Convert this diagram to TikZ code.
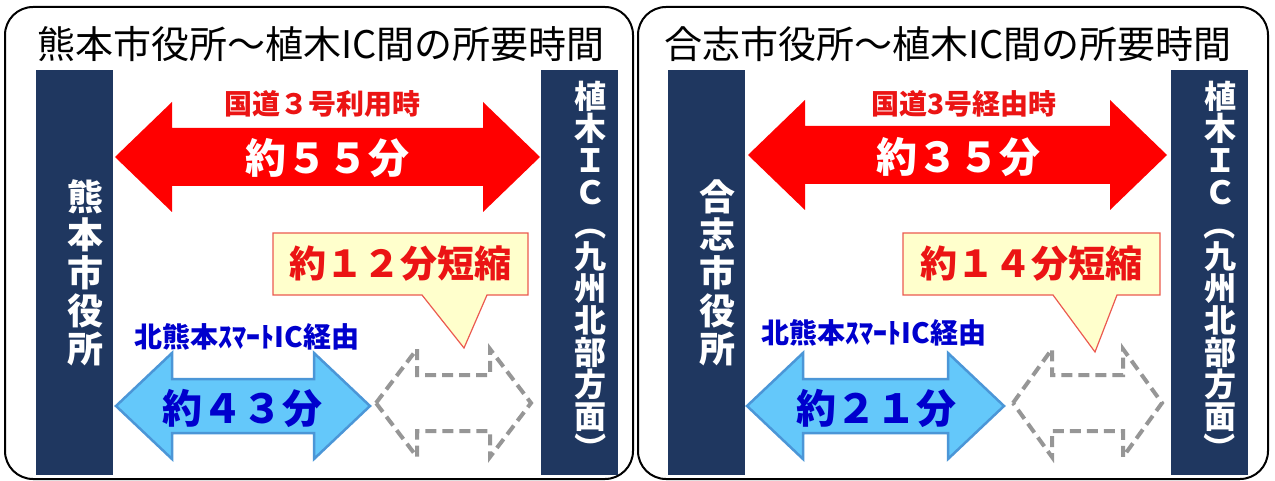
\documentclass[tikz,border=0pt]{standalone}
\usepackage{graphicx}
\usepackage{fontspec}
\setmainfont{Noto Sans CJK JP}
\definecolor{navy}{RGB}{31,55,96}
\definecolor{arrowred}{RGB}{255,0,0}
\definecolor{textred}{RGB}{235,20,20}
\definecolor{skyblue}{RGB}{100,200,250}
\definecolor{skyedge}{RGB}{75,150,215}
\definecolor{deepblue}{RGB}{0,0,205}
\definecolor{callyellow}{RGB}{255,255,204}
\definecolor{calledge}{RGB}{235,90,80}
\definecolor{dashgray}{RGB}{150,150,150}
\tikzstyle{panel} = [draw=black, line width=2pt, rounded corners=28pt]
\tikzstyle{navybar} = [rectangle, fill=navy, inner sep=0pt, minimum width=77pt, minimum height=405pt]
\tikzstyle{citytext} = [text=white, align=center, inner sep=0pt, font=\bfseries\fontsize{36}{38}\selectfont]
\tikzstyle{ictext} = [text=white, align=center, inner sep=0pt, font=\bfseries\fontsize{32}{32}\selectfont]
\tikzstyle{title} = [inner sep=0pt, font=\fontsize{38}{38}\selectfont]
\tikzstyle{redarrow} = [fill=arrowred]
\tikzstyle{bluearrow} = [fill=skyblue, draw=skyedge, line width=2.5pt]
\tikzstyle{grayarrow} = [fill=white, draw=dashgray, line width=4pt, dash pattern=on 11pt off 6pt]
\tikzstyle{calloutbox} = [fill=callyellow, draw=calledge, line width=1.2pt]
\tikzstyle{roadlabel} = [text=textred, inner sep=0pt, font=\bfseries\fontsize{28}{28}\selectfont]
\tikzstyle{roadtime} = [text=white, inner sep=0pt, font=\bfseries\fontsize{41}{41}\selectfont]
\tikzstyle{savetext} = [text=textred, inner sep=0pt, font=\bfseries\fontsize{37}{37}\selectfont]
\tikzstyle{smartlabel} = [text=deepblue, inner sep=0pt, font=\bfseries\fontsize{28}{28}\selectfont]
\tikzstyle{smarttime} = [text=deepblue, inner sep=0pt, font=\bfseries\fontsize{40}{40}\selectfont]
% vertical parentheses
\newcommand{\vopen}{\rotatebox[origin=c]{-90}{（}}
\newcommand{\vclose}{\rotatebox[origin=c]{-90}{）}}
% block arrow: style, left tip x, right tip x, y, head length, shaft half, head half
\newcommand{\blockarrow}[7]{%
  \path[#1] (#2,#4) -- ({#2+#5},{#4-#7}) -- ({#2+#5},{#4-#6})
    -- ({#3-#5},{#4-#6}) -- ({#3-#5},{#4-#7}) -- (#3,#4)
    -- ({#3-#5},{#4+#7}) -- ({#3-#5},{#4+#6}) -- ({#2+#5},{#4+#6})
    -- ({#2+#5},{#4+#7}) -- cycle;}
\begin{document}
\begin{tikzpicture}[x=1pt,y=-1pt]
\useasboundingbox (0,0) rectangle (1275,481);

% Panels
	\draw [panel] (5,7) rectangle (633,479);
	\draw [panel] (638,7) rectangle (1268,479);

% Left panel: Kumamoto city hall
	\node [title] (titleL) at (321,44) {熊本市役所～植木IC間の所要時間};
	\node [navybar] (kumaBar) at (74,272.5) {};
	\node [citytext, xshift=11pt] (kumaText) at (kumaBar.center) {熊\\本\\市\\役\\所};
	\node [navybar] (uekiBarL) at (579.5,272.5) {};
	\node [ictext, xshift=11pt] (uekiTextL) at (uekiBarL.center) {植\\木\\Ｉ\\Ｃ\\\vopen\\九\\州\\北\\部\\方\\面\\\vclose};
	\blockarrow{redarrow}{115}{540}{157}{57}{29}{55}
	\node [roadlabel] (roadL) at (322,104) {国道３号利用時};
	\node [roadtime] (roadTimeL) at (327,158) {約５５分};
	\draw [calloutbox] (273,233) -- (528,233) -- (528,295) -- (487,295) -- (464,348) -- (422,295) -- (273,295) -- cycle;
	\node [savetext] (saveL) at (400,264) {約１２分短縮};
	\node [smartlabel] (smartL) at (247,337) {北熊本ｽﾏｰﾄIC経由};
	\blockarrow{bluearrow}{116}{370}{406}{56}{27}{53}
	\node [smarttime] (smartTimeL) at (242,408) {約４３分};
	\blockarrow{grayarrow}{376}{531}{403}{41}{28}{54}

% Right panel: Koshi city hall
	\node [title] (titleR) at (948,44) {合志市役所～植木IC間の所要時間};
	\node [navybar] (koshiBar) at (706.5,272.5) {};
	\node [citytext, xshift=11pt] (koshiText) at (koshiBar.center) {合\\志\\市\\役\\所};
	\node [navybar] (uekiBarR) at (1209,272.5) {};
	\node [ictext, xshift=11pt] (uekiTextR) at (uekiBarR.center) {植\\木\\Ｉ\\Ｃ\\\vopen\\九\\州\\北\\部\\方\\面\\\vclose};
	\blockarrow{redarrow}{748}{1167}{155}{57}{29}{55}
	\node [roadlabel] (roadR) at (964,104) {国道3号経由時};
	\node [roadtime] (roadTimeR) at (958,157) {約３５分};
	\draw [calloutbox] (903,233) -- (1160,233) -- (1160,295) -- (1117,295) -- (1095,352) -- (1053,295) -- (903,295) -- cycle;
	\node [savetext] (saveR) at (1031,264) {約１４分短縮};
	\node [smartlabel] (smartR) at (874,333) {北熊本ｽﾏｰﾄIC経由};
	\blockarrow{bluearrow}{747}{1004}{406}{56}{27}{53}
	\node [smarttime] (smartTimeR) at (876,408) {約２１分};
	\blockarrow{grayarrow}{1013}{1162}{403}{39}{28}{54}

\end{tikzpicture}
\end{document}
